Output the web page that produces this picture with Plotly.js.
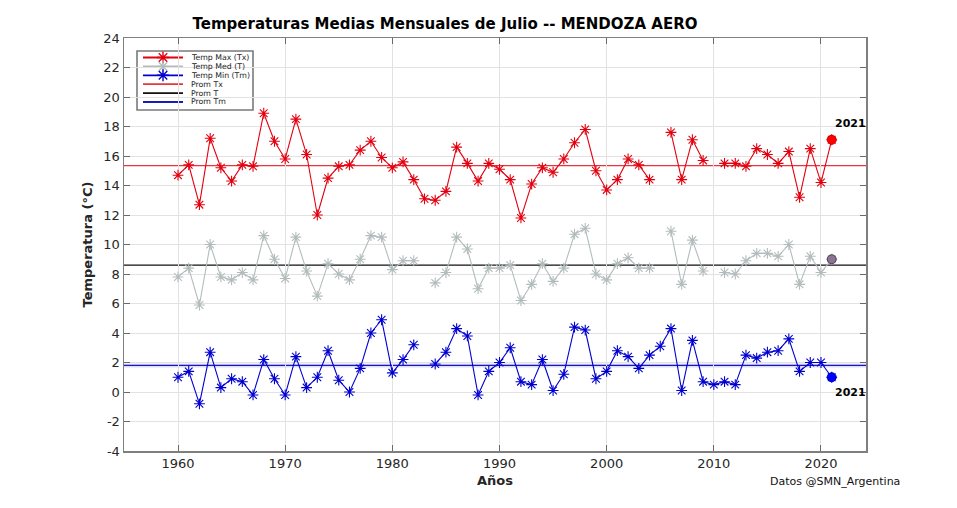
<!DOCTYPE html>
<html>
<head>
<meta charset="utf-8">
<script src="https://cdn.plot.ly/plotly-3.0.1.min.js"></script>
<style>html,body{margin:0;padding:0;background:#fff;}#chart{width:957px;height:508px;}</style>
</head>
<body>
<div id="chart"></div>
<script>
const years = [1960,1961,1962,1963,1964,1965,1966,1967,1968,1969,1970,1971,1972,1973,1974,1975,1976,1977,1978,1979,1980,1981,1982,1983,1984,1985,1986,1987,1988,1989,1990,1991,1992,1993,1994,1995,1996,1997,1998,1999,2000,2001,2002,2003,2004,2005,2006,2007,2008,2009,2010,2011,2012,2013,2014,2015,2016,2017,2018,2019,2020,2021];
const tmax = [14.7,15.4,12.7,17.2,15.2,14.3,15.4,15.3,18.9,17.0,15.8,18.5,16.1,12.0,14.5,15.3,15.4,16.4,17.0,15.9,15.2,15.6,14.4,13.1,13.0,13.6,16.6,15.5,14.3,15.5,15.1,14.4,11.8,14.1,15.2,14.9,15.8,16.9,17.8,15.0,13.7,14.4,15.8,15.4,14.4,null,17.6,14.4,17.1,15.7,null,15.5,15.5,15.3,16.5,16.1,15.5,16.3,13.2,16.5,14.2,17.1];
const tmed = [7.8,8.4,5.9,10.0,7.8,7.6,8.1,7.6,10.6,9.0,7.7,10.5,8.2,6.5,8.7,8.0,7.6,9.0,10.6,10.5,8.3,8.9,8.9,null,7.4,8.1,10.5,9.7,7.0,8.4,8.4,8.6,6.2,7.3,8.7,7.5,8.4,10.7,11.1,8.0,7.6,8.7,9.1,8.4,8.4,null,10.9,7.3,10.3,8.2,null,8.1,8.0,8.9,9.4,9.4,9.2,10.0,7.3,9.2,8.1,9.0];
const tmin = [1.0,1.4,-0.8,2.7,0.3,0.9,0.7,-0.2,2.2,0.9,-0.2,2.4,0.3,1.0,2.8,0.8,0.0,1.6,4.0,4.9,1.3,2.2,3.2,null,1.9,2.7,4.3,3.8,-0.2,1.4,2.0,3.0,0.7,0.5,2.2,0.1,1.2,4.4,4.2,0.9,1.4,2.8,2.4,1.6,2.5,3.1,4.3,0.1,3.5,0.7,0.5,0.7,0.5,2.5,2.3,2.7,2.8,3.6,1.4,2.0,2.0,1.0];
const promTx = 15.35, promT = 8.6, promTm = 1.8;
const highlightYear = 2021;
const xTicks = [1960,1970,1980,1990,2000,2010,2020];
const yTicks = [-4,-2,0,2,4,6,8,10,12,14,16,18,20,22,24];
const legendNames = ["Temp Max (Tx)","Temp Med (T)","Temp Min (Tm)","Prom Tx","Prom T","Prom Tm"];

const cRed = '#e3000f', cGray = '#b3bcbc', cBlue = '#0000d0';
const cPromTx = '#e8343a', cPromT = '#111111', cPromTm = '#1a1ab8';
const legendColors = [cRed, cGray, cBlue, cPromTx, cPromT, cPromTm];
const legendHasMarker = [true,true,true,false,false,false];

const hiIdx = years.indexOf(highlightYear);

// plot area in pixels
const L = 124, R = 866, T = 38, B = 451, W = 957, H = 508;
const px = x => (x - L) / (R - L);
const py = y => (B - y) / (B - T);

function series(y, color, name) {
  return {x: years, y: y, type: 'scatter', mode: 'lines+markers', name: name,
    line: {color: color, width: 1.1},
    marker: {symbol: 'asterisk-open', size: 9, line: {color: color, width: 1.1}, color: color},
    connectgaps: false, showlegend: false, hoverinfo: 'x+y'};
}

const traces = [
  series(tmax, cRed, legendNames[0]),
  series(tmed, cGray, legendNames[1]),
  series(tmin, cBlue, legendNames[2]),
  {x: [highlightYear], y: [tmax[hiIdx]], type: 'scatter', mode: 'markers', showlegend: false,
   marker: {symbol: 'circle', size: 9, color: '#ff0000', line: {color: '#d00000', width: 1}}},
  {x: [highlightYear], y: [tmed[hiIdx]], type: 'scatter', mode: 'markers', showlegend: false,
   marker: {symbol: 'circle', size: 9, color: '#8c7494', line: {color: '#4a3a50', width: 1}}},
  {x: [highlightYear], y: [tmin[hiIdx]], type: 'scatter', mode: 'markers', showlegend: false,
   marker: {symbol: 'circle', size: 9, color: '#0000ff', line: {color: '#0000c0', width: 1}}}
];

// custom legend
const legX0 = 137, legY0 = 51, legW = 116, legH = 59;
const rowY0 = 57.5, rowDy = 8.9;
const lineX0 = 143, lineX1 = 183, textX = 189;
const shapes = [
  {type:'line', xref:'paper', x0:0, x1:1, yref:'y', y0:promTx, y1:promTx, line:{color:cPromTx, width:1.2}, layer:'between'},
  {type:'line', xref:'paper', x0:0, x1:1, yref:'y', y0:promT, y1:promT, line:{color:cPromT, width:1.2}, layer:'between'},
  {type:'line', xref:'paper', x0:0, x1:1, yref:'y', y0:promTm, y1:promTm, line:{color:'rgba(140,140,255,0.3)', width:4}, layer:'between'},
  {type:'line', xref:'paper', x0:0, x1:1, yref:'y', y0:promTm, y1:promTm, line:{color:cPromTm, width:1.2}, layer:'between'},
  {type:'rect', xref:'paper', yref:'paper', x0:px(legX0), x1:px(legX0+legW), y0:py(legY0), y1:py(legY0+legH),
   fillcolor:'#ffffff', line:{color:'#7a7a7a', width:1.6}, layer:'between'}
];
const annotations = [];
const legMx = [], legMy = [], legMc = [];
legendNames.forEach((n, i) => {
  const yy = rowY0 + i * rowDy;
  shapes.push({type:'line', xref:'paper', yref:'paper', x0:px(lineX0), x1:px(lineX1), y0:py(yy), y1:py(yy),
    line:{color: legendColors[i], width: 1.8}, layer:'between'});
  if (legendHasMarker[i]) { legMx.push(px((lineX0+lineX1)/2)); legMy.push(py(yy)); legMc.push(legendColors[i]); }
  annotations.push({xref:'paper', yref:'paper', x:px(textX), y:py(yy), text:n, showarrow:false,
    xanchor:'left', yanchor:'middle', font:{family:'DejaVu Sans', size:7.8, color:'#222'}});
});
traces.push({x: legMx, y: legMy, xaxis:'x2', yaxis:'y2', type:'scatter', mode:'markers', showlegend:false, hoverinfo:'skip',
  marker:{symbol:'asterisk-open', size:10, color:legMc, line:{color:legMc, width:1.4}}});

annotations.push({x: highlightYear, y: tmax[hiIdx], xref:'x', yref:'y', text:'<b>2021</b>', showarrow:false,
  xanchor:'left', yanchor:'middle', xshift:1, yshift:16, font:{family:'DejaVu Sans', size:11, color:'#000'}});
annotations.push({x: highlightYear, y: tmin[hiIdx], xref:'x', yref:'y', text:'<b>2021</b>', showarrow:false,
  xanchor:'left', yanchor:'middle', xshift:1, yshift:-15, font:{family:'DejaVu Sans', size:11, color:'#000'}});
annotations.push({xref:'paper', yref:'paper', x:px(768), y:py(481), text:'Datos @SMN_Argentina', showarrow:false,
  xanchor:'left', yanchor:'middle', font:{family:'DejaVu Sans', size:11, color:'#111'}});

const axisCommon = {
  showline:true, linecolor:'#7f7f7f', linewidth:1.5, mirror:'allticks',
  ticks:'inside', ticklen:6, tickcolor:'#6a6a6a', tickwidth:1,
  showgrid:true, gridcolor:'#e2e2e2', gridwidth:1, zeroline:false,
  tickfont:{family:'DejaVu Sans', size:13, color:'#262626'}
};

const layout = {
  width: W, height: H,
  margin: {l: L, r: W - R, t: T, b: H - B, pad: 0},
  paper_bgcolor:'#ffffff', plot_bgcolor:'#ffffff',
  showlegend:false,
  title: {text:'<b>Temperaturas Medias Mensuales de Julio -- MENDOZA AERO</b>', x: 445/W, xanchor:'center', xref:'container',
    y: 1 - 24/H, yanchor:'middle', yref:'container', font:{family:'DejaVu Sans', size:15, color:'#000'}},
  xaxis: Object.assign({}, axisCommon, {range:[1954.96, 2024.2], tickvals:xTicks, ticktext:xTicks.map(String),
    title:{text:'<b>Años</b>', font:{family:'DejaVu Sans', size:13, color:'#262626'}, standoff:6}}),
  yaxis: Object.assign({}, axisCommon, {range:[-4, 24], tickvals:yTicks, ticktext:yTicks.map(String),
    title:{text:'<b>Temperatura (°C)</b>', font:{family:'DejaVu Sans', size:13, color:'#262626'}, standoff:8}}),
  xaxis2: {overlaying:'x', range:[0,1], visible:false, fixedrange:true},
  yaxis2: {overlaying:'y', range:[0,1], visible:false, fixedrange:true},
  shapes: shapes,
  annotations: annotations
};

Plotly.newPlot('chart', traces, layout, {staticPlot:true, displayModeBar:false});
</script>
</body>
</html>
